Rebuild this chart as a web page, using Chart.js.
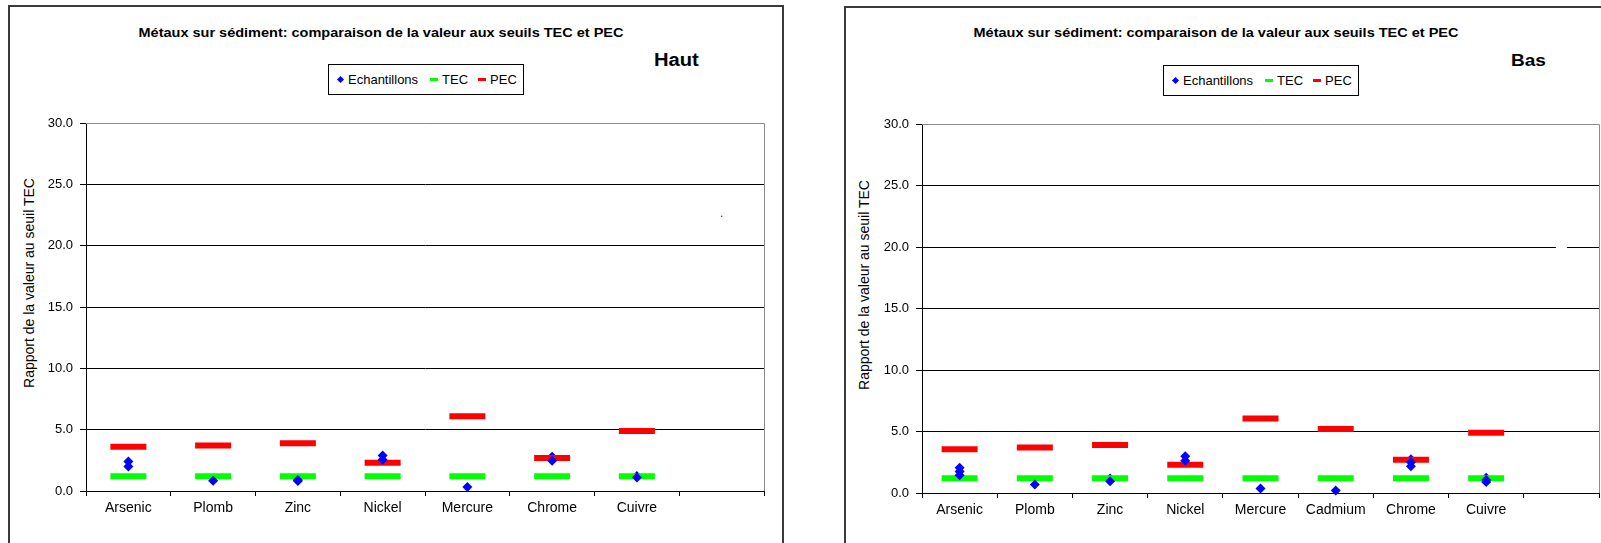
<!DOCTYPE html>
<html lang="fr">
<head>
<meta charset="utf-8">
<title>Métaux sur sédiment</title>
<script src="https://cdn.jsdelivr.net/npm/chart.js@4.4.1/dist/chart.umd.min.js"></script>
<style>
  html, body { margin: 0; padding: 0; background: #fff; }
  body { width: 1601px; height: 543px; position: relative; overflow: hidden;
         font-family: Arial, "Liberation Sans", sans-serif; color: #000; }
  .panel { position: absolute; border: 2px solid #3a3a3a; box-sizing: border-box; }
  .titre { position: absolute; font-weight: bold; font-size: 13px; line-height: 13px;
           white-space: nowrap; transform: translateX(-50%) scaleX(1.115); }
  .site { position: absolute; font-weight: bold; white-space: nowrap; line-height: 1;
          transform: scaleX(1.12); transform-origin: left center; }
  .legende { position: absolute; width: 196px; height: 31px; border: 1px solid #000;
             box-sizing: border-box; font-size: 13px; display: flex; align-items: center;
             padding-left: 9px; white-space: nowrap; }
  .legende .losange { width: 5px; height: 5px; background: #0000ff; transform: rotate(45deg);
                      margin-right: 5px; }
  .legende .tiret { width: 8px; height: 3px; margin-right: 4px; }
  .ylab { position: absolute; font-size: 14px; white-space: nowrap;
          transform: translate(-50%, -50%) rotate(-90deg); }
  canvas { position: absolute; }
</style>
</head>
<body>

<div class="panel" style="left:8px; top:5px; width:776px; height:560px;"></div>
<div class="panel" style="left:844px; top:6px; width:780px; height:560px;"></div>

<div class="titre" style="left:381px; top:26px;">Métaux sur sédiment: comparaison de la valeur aux seuils TEC et PEC</div>
<div class="titre" style="left:1216px; top:26px;">Métaux sur sédiment: comparaison de la valeur aux seuils TEC et PEC</div>

<div class="site" style="left:654px; top:51px; font-size:18px;">Haut</div>
<div class="site" style="left:1511px; top:52px; font-size:17px;">Bas</div>

<div class="legende" style="left:328px; top:64px;">
  <span class="losange"></span><span style="margin-right:12px;">Echantillons</span>
  <span class="tiret" style="background:#00ff00;"></span><span style="margin-right:10px;">TEC</span>
  <span class="tiret" style="background:#ff0000;"></span><span>PEC</span>
</div>
<div class="legende" style="left:1163px; top:65px;">
  <span class="losange"></span><span style="margin-right:12px;">Echantillons</span>
  <span class="tiret" style="background:#00ff00;"></span><span style="margin-right:10px;">TEC</span>
  <span class="tiret" style="background:#ff0000;"></span><span>PEC</span>
</div>

<div class="ylab" style="left:29px; top:283px;">Rapport de la valeur au seuil TEC</div>
<div class="ylab" style="left:864px; top:285px;">Rapport de la valeur au seuil TEC</div>

<!-- Chart.js keeps ~24px on the right of the plot, so the canvases are a bit wider -->
<canvas id="graphHaut" width="776" height="535" style="left:12px; top:8px;"></canvas>
<canvas id="graphBas" width="775" height="535" style="left:848px; top:8px;"></canvas>

<script>
// --- Haut ---
var categoriesHaut = ['Arsenic', 'Plomb', 'Zinc', 'Nickel', 'Mercure', 'Chrome', 'Cuivre', ''];
var tecHaut = [1.2, 1.2, 1.2, 1.2, 1.2, 1.2, 1.2, null];
var pecHaut = [3.6, 3.7, 3.9, 2.3, 6.1, 2.7, 4.9, null];
var echantHaut = [[2.4, 2.0], [0.84], [0.9, 0.82], [2.9, 2.55], [0.32], [2.47], [1.1]];
var echantCachesHaut = [[], [], [], [], [], [2.8], [1.23]];   // hidden behind the bars
var pointIsoleHaut = [null, null, null, null, null, null, null, 22.4];

// --- Bas ---
var categoriesBas = ['Arsenic', 'Plomb', 'Zinc', 'Nickel', 'Mercure', 'Cadmium', 'Chrome', 'Cuivre', ''];
var tecBas = [1.2, 1.2, 1.2, 1.2, 1.2, 1.2, 1.2, 1.2, null];
var pecBas = [3.55, 3.7, 3.9, 2.3, 6.05, 5.2, 2.7, 4.9, null];
var echantBas = [[2.05, 1.75, 1.45], [0.7], [0.95], [2.98, 2.62], [0.36], [0.2], [2.5, 2.17], [1.05, 0.9]];
var echantCachesBas = [[], [], [1.17], [], [], [], [2.75], [1.25]];
var pointIsoleBas = [null, null, null, null, null, null, null, null, 20];

var yMax = 30;
var yPas = 5;

/* flatten per-category sample lists into {x, y} points */
function versPoints(categories, valeurs) {
    var pts = [];
    valeurs.forEach(function (liste, i) {
        liste.forEach(function (v) { pts.push({ x: categories[i], y: v }); });
    });
    return pts;
}

// grey top / right border of the plot area (Excel style)
var cadrePlot = {
    id: 'cadrePlot',
    beforeDatasetsDraw: function (chart) {
        var ctx = chart.ctx, a = chart.chartArea;
        var t = Math.round(a.top) + 0.5, r = Math.round(a.right) + 0.5;
        ctx.save();
        ctx.strokeStyle = '#8c8c8c';
        ctx.lineWidth = 1;
        ctx.beginPath();
        ctx.moveTo(a.left, t);
        ctx.lineTo(r, t);
        ctx.lineTo(r, a.bottom);
        ctx.stroke();
        ctx.restore();
    }
};

function dessinerGraph(id, categories, tec, pec, echant, caches, isole, opts) {
    var marque = function (couleur) {
        return { pointStyle: 'line', pointRadius: 18, pointHoverRadius: 18,
                 pointBorderWidth: 6, pointHoverBorderWidth: 6,
                 pointBorderColor: couleur, pointBackgroundColor: couleur };
    };
    var losange = { pointStyle: 'rectRot', pointRadius: 5, pointHoverRadius: 5,
                    pointBackgroundColor: '#0000ff', pointBorderColor: '#0000ff', pointBorderWidth: 0 };

    return new Chart(document.getElementById(id).getContext('2d'), {
        type: 'line',
        data: {
            labels: categories,
            datasets: [
                Object.assign({ label: 'Echantillons', data: versPoints(categories, echant), showLine: false, clip: false }, losange),
                Object.assign({ label: 'TEC', data: tec, showLine: false, clip: false }, marque('#00ff00')),
                Object.assign({ label: 'PEC', data: pec, showLine: false, clip: false }, marque('#ff0000')),
                Object.assign({ label: 'Echantillons (2)', data: versPoints(categories, caches), showLine: false, clip: false }, losange),
                Object.assign({ label: '', data: isole, showLine: false, clip: false }, opts.isoleStyle)
            ]
        },
        options: {
            responsive: false,
            animation: false,
            events: [],
            devicePixelRatio: 1,
            layout: { padding: { left: 0, right: 0, top: opts.haut, bottom: opts.bas } },
            plugins: { legend: { display: false }, tooltip: { enabled: false }, title: { display: false } },
            scales: {
                x: {
                    type: 'category',
                    offset: true,
                    grid: { offset: true, drawOnChartArea: false, drawTicks: true, tickLength: 5, color: '#000', tickColor: '#000' },
                    border: { display: true, color: '#000', width: 1 },
                    ticks: { color: '#000', font: { family: 'Arial, "Liberation Sans", sans-serif', size: 14 },
                             padding: 4, maxRotation: 0, autoSkip: false },
                    afterFit: function (s) { s.height = 30; }
                },
                y: {
                    min: 0,
                    max: yMax,
                    ticks: { stepSize: yPas, color: '#000', padding: 7,
                             font: { family: 'Arial, "Liberation Sans", sans-serif', size: 13 },
                             callback: function (v) { return v.toFixed(1); } },
                    grid: { color: function (c) { return c.tick && c.tick.value === yMax ? 'rgba(0,0,0,0)' : '#000'; },
                            tickColor: '#000', tickLength: 6, lineWidth: 1 },
                    border: { display: true, color: '#000', width: 1 },
                    afterFit: function (s) { s.width = 74; }
                }
            }
        },
        plugins: [cadrePlot]
    });
}

dessinerGraph('graphHaut', categoriesHaut, tecHaut, pecHaut, echantHaut, echantCachesHaut, pointIsoleHaut, {
    haut: 115, bas: 22,
    isoleStyle: { pointStyle: 'circle', pointRadius: 0.8, pointBackgroundColor: '#3333ff', pointBorderWidth: 0 }
});
dessinerGraph('graphBas', categoriesBas, tecBas, pecBas, echantBas, echantCachesBas, pointIsoleBas, {
    haut: 116, bas: 20,
    isoleStyle: { pointStyle: 'line', pointRadius: 5.5, pointBorderWidth: 3, pointBorderColor: '#ffffff' }
});
</script>
</body>
</html>
